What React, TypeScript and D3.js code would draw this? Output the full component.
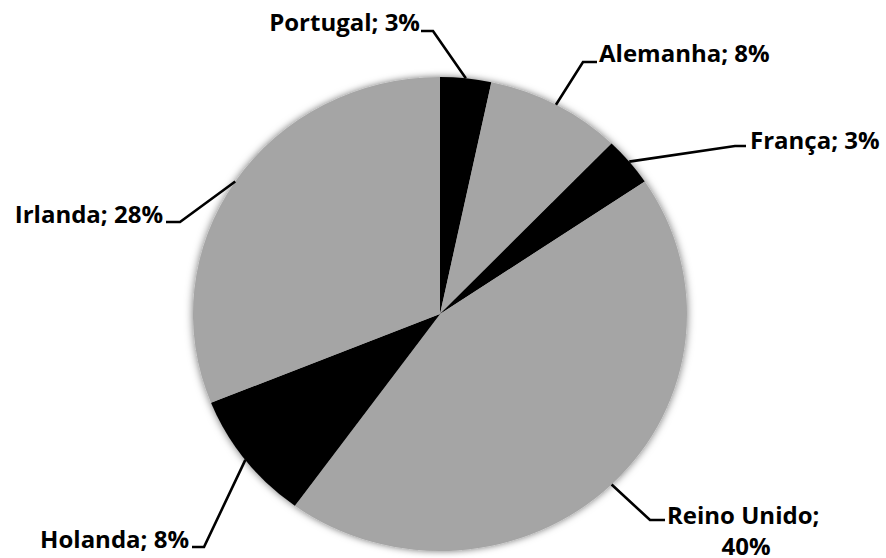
import React from 'react';
import * as d3 from 'd3';

const countries = ['Portugal', 'Alemanha', 'França', 'Reino Unido', 'Holanda', 'Irlanda'];
const shares = [3, 8, 3, 40, 8, 28];
const fills = ['#000000', '#a5a5a5', '#000000', '#a5a5a5', '#000000', '#a5a5a5'];

// where each label sits: elbow of the leader, end of the short flat piece, text anchor
const labelLayout = [
    { elbow: [433, 31], end: [421, 31], tx: 420, ty: 31, anchor: 'end' },
    { elbow: [583, 62], end: [597, 62], tx: 599, ty: 62, anchor: 'start' },
    { elbow: [735, 146], end: [746, 146], tx: 750, ty: 149, anchor: 'start' },
    { elbow: [650, 520], end: [665, 520], tx: 667, ty: 524, anchor: 'start' },
    { elbow: [204, 547], end: [192, 547], tx: 189, ty: 548, anchor: 'end' },
    { elbow: [180, 222], end: [166, 222], tx: 163, ty: 223, anchor: 'end' },
];

const App = () => {
    const width = 886;
    const height = 558;
    const cx = 440;
    const cy = 314;
    const rx = 247;
    const ry = 237;

    const data = countries.map((c, i) => ({ name: c, value: shares[i], fill: fills[i] }));

    const pie = d3.pie<any>().sort(null).value(d => d.value);
    const arcs = pie(data);
    const arc = d3.arc<any>().innerRadius(0).outerRadius(rx);

    const edge = (a: number) => [cx + rx * Math.sin(a), cy - ry * Math.cos(a)];

    const slices = arcs.map((a, i) =>
        <path key={i} d={arc(a) || ''} fill={a.data.fill} />
    );

    const labels = arcs.map((a, i) => {
        const mid = (a.startAngle + a.endAngle) / 2;
        const p = edge(mid);
        const l = labelLayout[i];
        const pts = [p, l.elbow, l.end];
        const txt = a.data.name + '; ' + a.data.value + '%';
        return (
            <g key={i}>
                <path d={d3.line()(pts as [number, number][]) || ''} fill="none" stroke="#000" strokeWidth={2.6} />
                {a.data.name === 'Reino Unido' ?
                    <text x={l.tx} y={l.ty} textAnchor="start">
                        <tspan>{a.data.name + ';'}</tspan>
                        <tspan x={746} y={l.ty + 31} textAnchor="middle">{a.data.value + '%'}</tspan>
                    </text> :
                    <text x={l.tx} y={l.ty} textAnchor={l.anchor}>{txt}</text>}
            </g>
        );
    });

    return (
        <svg width={width} height={height} style={{ position: 'absolute', left: 0, top: 0, background: '#fff' }}>
            <defs>
                <filter id="shade" x="-10%" y="-10%" width="120%" height="120%">
                    <feDropShadow dx="0" dy="0" stdDeviation="4" floodColor="#000" floodOpacity="0.55" />
                </filter>
            </defs>
            <g transform={`translate(${cx},${cy}) scale(1,${ry / rx})`} filter="url(#shade)">
                {slices}
            </g>
            <g fontFamily="'Open Sans', Lato, sans-serif" fontWeight="bold" fontSize={24} fill="#000">
                {labels}
            </g>
        </svg>
    );
};

export default App;
